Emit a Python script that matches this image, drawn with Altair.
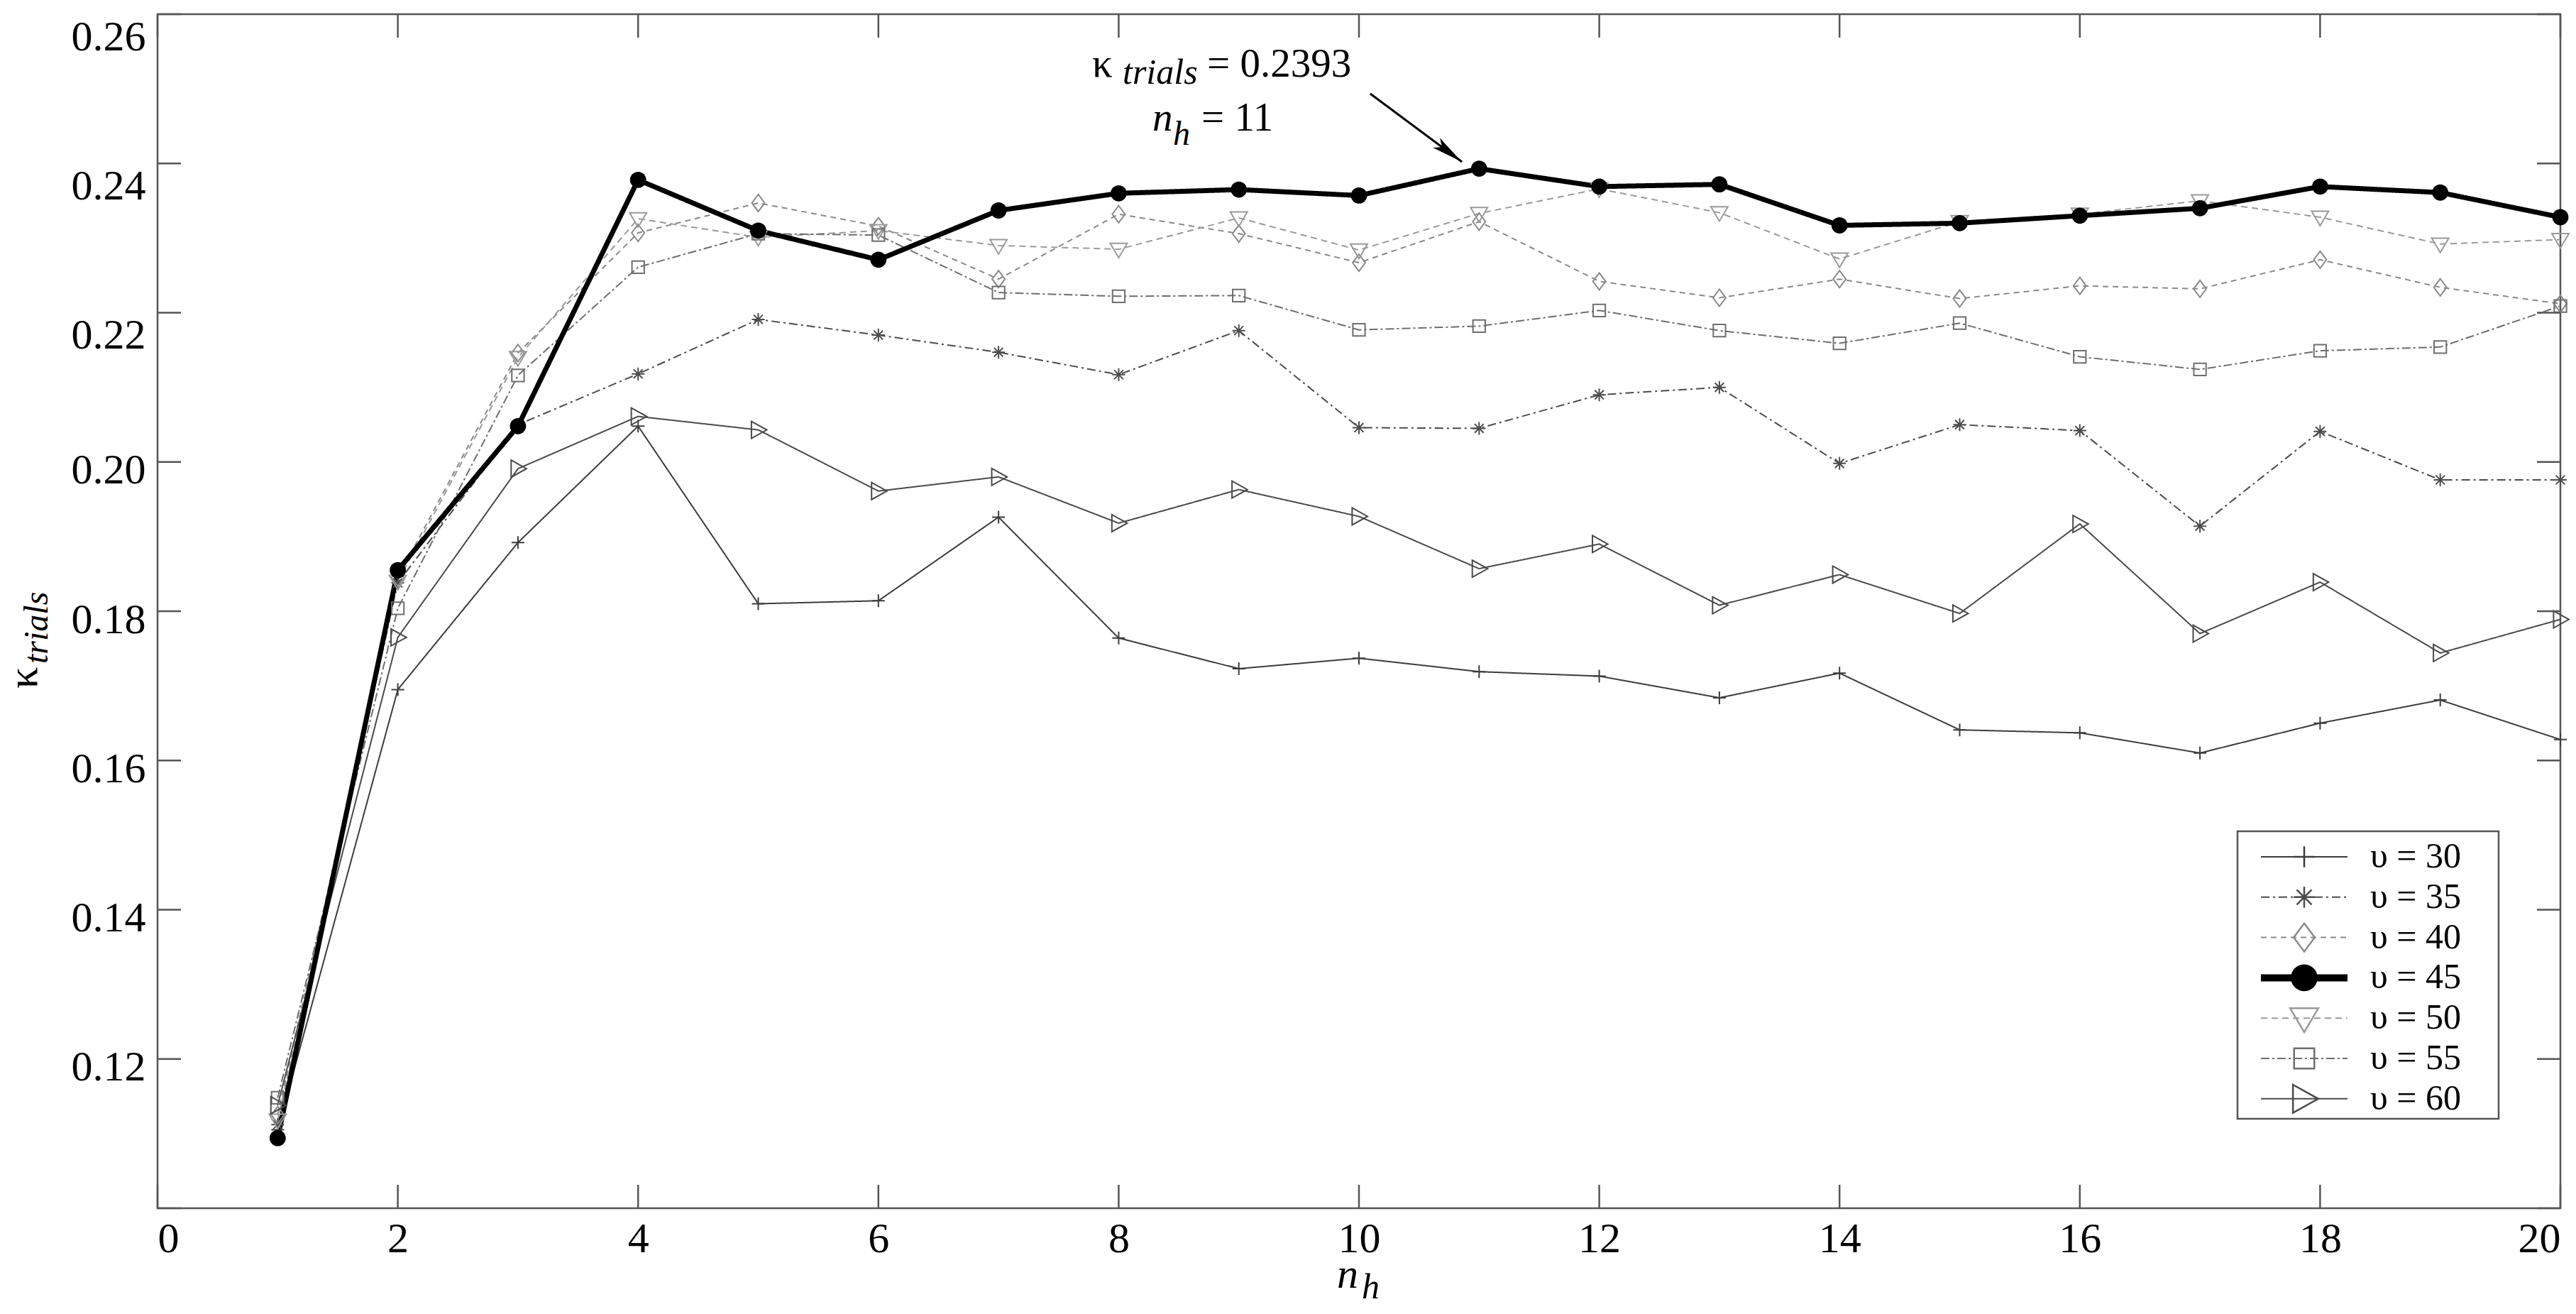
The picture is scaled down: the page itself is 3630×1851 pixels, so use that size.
import altair as alt
import pandas as pd

# ---------------- data ----------------
N_H = list(range(1, 21))
SERIES = ["υ = 30", "υ = 35", "υ = 40", "υ = 45", "υ = 50", "υ = 55", "υ = 60"]

K30 = [0.1105, 0.1695, 0.1892, 0.2048, 0.1810, 0.1814, 0.1926, 0.1764, 0.1723, 0.1737,
       0.1719, 0.1713, 0.1684, 0.1717, 0.1641, 0.1637, 0.1610, 0.1650, 0.1681, 0.1628]
K35 = [0.1112, 0.1838, 0.2050, 0.2118, 0.2191, 0.2170, 0.2147, 0.2117, 0.2176, 0.2046,
       0.2045, 0.2090, 0.2100, 0.1998, 0.2050, 0.2042, 0.1914, 0.2041, 0.1976, 0.1976]
K40 = [0.1125, 0.1845, 0.2146, 0.2307, 0.2347, 0.2316, 0.2245, 0.2332, 0.2306, 0.2267,
       0.2322, 0.2242, 0.2220, 0.2245, 0.2219, 0.2236, 0.2232, 0.2271, 0.2234, 0.2212]
K45 = [0.1094, 0.1855, 0.2048, 0.2378, 0.2310, 0.2271, 0.2337, 0.2360, 0.2365, 0.2357,
       0.2393, 0.2369, 0.2372, 0.2317, 0.2320, 0.2330, 0.2340, 0.2369, 0.2361, 0.2328]
K50 = [0.1118, 0.1840, 0.2140, 0.2326, 0.2301, 0.2310, 0.2290, 0.2285, 0.2327, 0.2284,
       0.2333, 0.2366, 0.2334, 0.2272, 0.2322, 0.2332, 0.2350, 0.2328, 0.2292, 0.2298]
K55 = [0.1148, 0.1804, 0.2116, 0.2261, 0.2306, 0.2304, 0.2227, 0.2222, 0.2223, 0.2177,
       0.2182, 0.2203, 0.2176, 0.2159, 0.2186, 0.2141, 0.2124, 0.2149, 0.2154, 0.2209]
K60 = [0.1138, 0.1765, 0.1991, 0.2061, 0.2043, 0.1961, 0.1980, 0.1918, 0.1963, 0.1927,
       0.1857, 0.1890, 0.1808, 0.1849, 0.1797, 0.1917, 0.1770, 0.1839, 0.1744, 0.1789]

X_TICKS = list(range(0, 21, 2))
Y_TICKS = [0.10, 0.12, 0.14, 0.16, 0.18, 0.20, 0.22, 0.24, 0.26]
Y_LABELS = [0.12, 0.14, 0.16, 0.18, 0.20, 0.22, 0.24, 0.26]

ANNOT_VALUE = "= 0.2393"
ANNOT_NH = "= 11"

rows = []
for s, vals in zip(SERIES, [K30, K35, K40, K45, K50, K55, K60]):
    for n, k in zip(N_H, vals):
        rows.append({"series": s, "n": n, "k": k})
df = pd.DataFrame(rows)
leg_df = pd.DataFrame({"series": SERIES, "idx": list(range(len(SERIES)))})
xt_df = pd.DataFrame({"n": X_TICKS})
yt_df = pd.DataFrame({"k": Y_TICKS})
one = pd.DataFrame({"a": [0]})

# ---------------- layout / style ----------------
W, H = 3386, 1682
FONT = "Liberation Serif"
GRAY = "#555555"
TICK = 33
BOLD = "υ = 45"

x_scale = alt.Scale(domain=[0, 20], nice=False, zero=False)
y_scale = alt.Scale(domain=[0.10, 0.26], nice=False, zero=False)
x_axis = alt.Axis(values=X_TICKS, format="d", title=None, ticks=False, tickSize=0,
                  domain=False, grid=False, labelFont=FONT, labelFontSize=60,
                  labelColor="black", labelPadding=14)
y_axis = alt.Axis(values=Y_LABELS, format=".2f", title=None, ticks=False, tickSize=0,
                  domain=False, grid=False, labelFont=FONT, labelFontSize=60,
                  labelColor="black", labelPadding=17,
                  labelOffset={"condition": {"test": "datum.value > 0.215", "value": 32},
                               "value": 12})

color_scale = alt.Scale(domain=SERIES, range=["#3c3c3c", "#4c4c4c", "#8a8a8a", "#000000",
                                              "#9a9a9a", "#6e6e6e", "#4a4a4a"])
dash_scale = alt.Scale(domain=SERIES, range=[[1, 0], [12, 5, 3, 5], [8, 6], [1, 0],
                                             [9, 6], [12, 4, 3, 4], [1, 0]])
SHAPES = [
    "M-0.75,0H0.75M0,-0.75V0.75",
    "M-0.75,0H0.75M0,-0.75V0.75M-0.53,-0.53L0.53,0.53M-0.53,0.53L0.53,-0.53",
    "M0,-1L0.75,0L0,1L-0.75,0Z",
    "M-0.95,0A0.95,0.95,0,1,0,0.95,0A0.95,0.95,0,1,0,-0.95,0Z",
    "M-1,-0.7L1,-0.7L0,1Z",
    "M-0.72,-0.72H0.72V0.72H-0.72Z",
    "M-0.8,-1L1,0L-0.8,1Z",
]
shape_scale = alt.Scale(domain=SERIES, range=SHAPES)

X = alt.X("n:Q", scale=x_scale, axis=x_axis)
Y = alt.Y("k:Q", scale=y_scale, axis=y_axis)
C = alt.Color("series:N", scale=color_scale, legend=None)
D = alt.StrokeDash("series:N", scale=dash_scale, legend=None)
S = alt.Shape("series:N", scale=shape_scale, legend=None)

base = alt.Chart(df)
lines_thin = base.transform_filter(f"datum.series !== '{BOLD}'").mark_line(strokeWidth=2).encode(
    x=X, y=Y, color=C, strokeDash=D, detail="series:N")
line_bold = base.transform_filter(f"datum.series === '{BOLD}'").mark_line(strokeWidth=7).encode(
    x=X, y=Y, color=C, strokeDash=D)
pts_hollow = base.transform_filter(f"datum.series !== '{BOLD}'").mark_point(
    filled=False, size=576, strokeWidth=2, opacity=1).encode(x=X, y=Y, color=C, shape=S)
pts_filled = base.transform_filter(f"datum.series === '{BOLD}'").mark_point(
    filled=True, size=576, opacity=1).encode(x=X, y=Y, color=C, shape=S)

# inward ticks on all four sides (MATLAB style)
rule_style = dict(color=GRAY, strokeWidth=2.5)
tick_bottom = alt.Chart(xt_df).mark_rule(**rule_style).encode(
    x=X, y=alt.value(H), y2=alt.value(H - TICK))
tick_top = alt.Chart(xt_df).mark_rule(**rule_style).encode(
    x=X, y=alt.value(0), y2=alt.value(TICK))
tick_left = alt.Chart(yt_df).mark_rule(**rule_style).encode(
    y=Y, x=alt.value(0), x2=alt.value(TICK))
tick_right = alt.Chart(yt_df).mark_rule(**rule_style).encode(
    y=Y, x=alt.value(W), x2=alt.value(W - TICK))


def txt(text, px, py, size, italic=False, angle=0, align="left", baseline="alphabetic"):
    kw = dict(text=text, font=FONT, fontSize=size, color="black", align=align,
              baseline=baseline, fontStyle="italic" if italic else "normal")
    if angle:
        kw["angle"] = angle
    return alt.Chart(one).mark_text(**kw).encode(x=alt.value(px), y=alt.value(py))


# axis titles
titles = [
    txt("κ", -170, 950, 60, angle=270),
    txt("trials", -155, 915, 48, italic=True, angle=270),
    txt("n", 1662, 1794, 60, italic=True),
    txt("h", 1697, 1809, 50, italic=True),
]

# annotation
annots = [
    txt("κ", 1317, 88, 57),
    txt("trials", 1360, 98, 50, italic=True),
    txt(ANNOT_VALUE, 1479, 88, 57),
    txt("n", 1402, 164, 57, italic=True),
    txt("h", 1431, 184, 48, italic=True),
    txt(ANNOT_NH, 1471, 164, 57),
]
ARROW_FROM = (10.094, 0.24935)
ARROW_TO = (10.857, 0.24021)
arrow_df = pd.DataFrame({"n": [ARROW_FROM[0]], "k": [ARROW_FROM[1]],
                         "n2": [ARROW_TO[0]], "k2": [ARROW_TO[1]]})
arrow_shaft = alt.Chart(arrow_df).mark_rule(color="black", strokeWidth=3).encode(
    x=X, y=Y, x2="n2:Q", y2="k2:Q")
arrow_head = alt.Chart(arrow_df).mark_point(
    shape="M0,0L0.3,1.6L0,1.25L-0.3,1.6Z", filled=True, size=3136, angle=126.65,
    color="black", opacity=1).encode(
    x=alt.X("n2:Q", scale=x_scale, axis=x_axis), y=alt.Y("k2:Q", scale=y_scale, axis=y_axis))

# legend
LEG_BOX = (2931, 1151, 3299, 1556)
LEG_Y0, LEG_DY = 1187, 56.8
LEG_LINE = (2964, 3086)
LEG_MARK_X, LEG_TEXT_X = 3025, 3118
leg_box = alt.Chart(one).mark_rect(fill="white", stroke=GRAY, strokeWidth=2.5).encode(
    x=alt.value(LEG_BOX[0]), y=alt.value(LEG_BOX[1]),
    x2=alt.value(LEG_BOX[2]), y2=alt.value(LEG_BOX[3]))
leg_base = alt.Chart(leg_df).transform_calculate(
    py=f"{LEG_Y0} + datum.idx * {LEG_DY}",
    lw=f"datum.series === '{BOLD}' ? 10 : 2")
PY = alt.Y("py:Q", scale=None, axis=None)
leg_lines = leg_base.mark_rule().encode(
    x=alt.value(LEG_LINE[0]), x2=alt.value(LEG_LINE[1]), y=PY, color=C, strokeDash=D,
    strokeWidth=alt.StrokeWidth("lw:Q", scale=None, legend=None))
leg_hollow = leg_base.transform_filter(f"datum.series !== '{BOLD}'").mark_point(
    filled=False, size=1568, strokeWidth=2.5, opacity=1).encode(
    x=alt.value(LEG_MARK_X), y=PY, color=C, shape=S)
leg_filled = leg_base.transform_filter(f"datum.series === '{BOLD}'").mark_point(
    filled=True, size=1568, opacity=1).encode(
    x=alt.value(LEG_MARK_X), y=PY, color=C, shape=S)
leg_text = leg_base.mark_text(align="left", baseline="middle", font=FONT, fontSize=50,
                              color="black").encode(
    x=alt.value(LEG_TEXT_X), y=PY, text="series:N")

chart = alt.layer(
    lines_thin, line_bold, pts_hollow, pts_filled,
    tick_bottom, tick_top, tick_left, tick_right,
    arrow_shaft, arrow_head,
    leg_box, leg_lines, leg_hollow, leg_filled, leg_text,
    *titles, *annots,
).properties(
    width=W, height=H,
    autosize=alt.AutoSizeParams(type="none"),
    padding={"left": 214, "top": 12, "right": 14, "bottom": 140},
    background="white",
).configure_view(stroke=GRAY, strokeWidth=2.5)

chart.save("out.html", embed_options={"renderer": "svg", "actions": False})
